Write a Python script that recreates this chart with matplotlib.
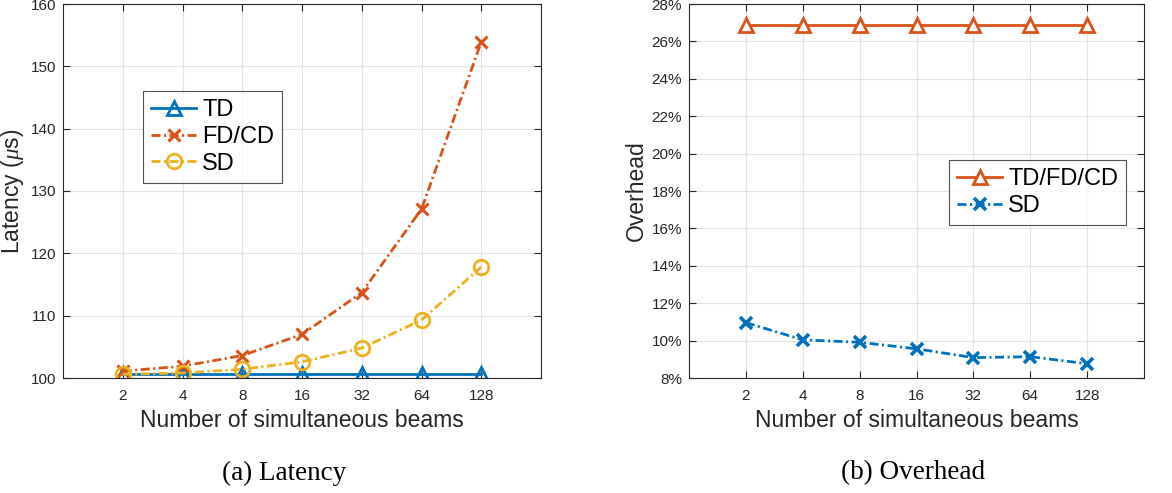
import matplotlib
matplotlib.use("Agg")
import matplotlib.pyplot as plt
from matplotlib.ticker import FuncFormatter

# ---- data ----
beams = ["2", "4", "8", "16", "32", "64", "128"]
latency_td = [100.6, 100.6, 100.6, 100.6, 100.6, 100.6, 100.6]
latency_fdcd = [101.1, 101.9, 103.6, 107.0, 113.7, 127.1, 153.9]
latency_sd = [100.6, 100.8, 101.4, 102.6, 104.8, 109.3, 117.8]
overhead_tdfdcd = [26.9, 26.9, 26.9, 26.9, 26.9, 26.9, 26.9]
overhead_sd = [10.96, 10.04, 9.91, 9.56, 9.09, 9.14, 8.76]
latency_yticks = [100, 110, 120, 130, 140, 150, 160]
overhead_yticks = [8, 10, 12, 14, 16, 18, 20, 22, 24, 26, 28]

BLUE = "#0072BD"
ORANGE = "#D95319"
YELLOW = "#EDB120"
AXC = "#262626"

plt.rcParams['font.family'] = ['Liberation Sans', 'DejaVu Sans']
plt.rcParams['mathtext.fontset'] = 'custom'
plt.rcParams['mathtext.it'] = 'Liberation Serif:italic'
plt.rcParams['mathtext.rm'] = 'Liberation Sans'
plt.rcParams['lines.scale_dashes'] = False
DASHDOT = (6.5, 2.5, 1.5, 2.5)

fig = plt.figure(figsize=(11.72, 4.93), dpi=100)
ax1 = fig.add_axes([63/1172, 1-378/493, (541-63)/1172, 374/493])
ax2 = fig.add_axes([689/1172, 1-378/493, (1144-689)/1172, 374/493])

x = list(range(1, len(beams) + 1))

def style(ax):
    ax.set_xlim(0, len(beams) + 1)
    ax.set_xticks(x)
    ax.set_xticklabels(beams)
    ax.grid(True, color="#e3e3e3", linewidth=0.8)
    ax.set_axisbelow(True)
    ax.tick_params(direction='in', top=True, right=True, length=5,
                   labelsize=11, colors=AXC, width=0.8)
    ax.tick_params(axis='x', pad=8)
    ax.tick_params(axis='y', pad=5)
    for s in ax.spines.values():
        s.set_color(AXC)
        s.set_linewidth(0.8)
    ax.set_xlabel("Number of simultaneous beams", fontsize=16.5, color=AXC, labelpad=4)

lw = 2.0
ms = 10.5
msx = 9
ax1.plot(x, latency_td, '-', color=BLUE, lw=lw, marker='^', ms=ms, mfc='none', mew=2, label='TD')
ax1.plot(x, latency_fdcd, color=ORANGE, lw=lw, dashes=DASHDOT, marker='x', ms=msx, mew=2.2, label='FD/CD')
ax1.plot(x, latency_sd, color=YELLOW, lw=lw, dashes=DASHDOT, marker='o', ms=ms, mfc='none', mew=2, label='SD')
style(ax1)
ax1.set_ylim(100, 160)
ax1.set_yticks(latency_yticks)
ax1.set_ylabel(r"Latency ($\mu$s)", fontsize=16.5, color=AXC, labelpad=3)
leg1 = ax1.legend(loc='upper left', bbox_to_anchor=((143-63)/478, 1-(91-4)/374),
                  fontsize=17, frameon=True, fancybox=False, edgecolor=AXC,
                  handlelength=1.9, borderpad=0.35, labelspacing=0.2, handletextpad=0.25,
                  borderaxespad=0)
leg1.get_frame().set_linewidth(0.8)

ax2.plot(x, overhead_tdfdcd, '-', color=ORANGE, lw=lw, marker='^', ms=ms, mfc='white', mew=2, label='TD/FD/CD')
ax2.plot(x, overhead_sd, color=BLUE, lw=lw, dashes=DASHDOT, marker='x', ms=msx, mew=2.6, label='SD')
style(ax2)
ax2.set_ylim(8, 28)
ax2.set_yticks(overhead_yticks)
ax2.yaxis.set_major_formatter(FuncFormatter(lambda v, p: f"{v:.0f}%"))
ax2.set_ylabel("Overhead", fontsize=16.5, color=AXC, labelpad=3)
leg2 = ax2.legend(loc='upper left', bbox_to_anchor=((949-689)/455, 1-(160-4)/374),
                  fontsize=17, frameon=True, fancybox=False, edgecolor=AXC,
                  handlelength=1.9, borderpad=0.35, labelspacing=0.2, handletextpad=0.25,
                  borderaxespad=0)
leg2.get_frame().set_linewidth(0.8)

fig.text(284/1172, 1-473/493, "(a) Latency", fontsize=19.5, family='Liberation Serif',
         ha='center', va='center', color='black')
fig.text(913/1172, 1-473/493, "(b) Overhead", fontsize=19.5, family='Liberation Serif',
         ha='center', va='center', color='black')

fig.savefig("out.png", dpi=100)
